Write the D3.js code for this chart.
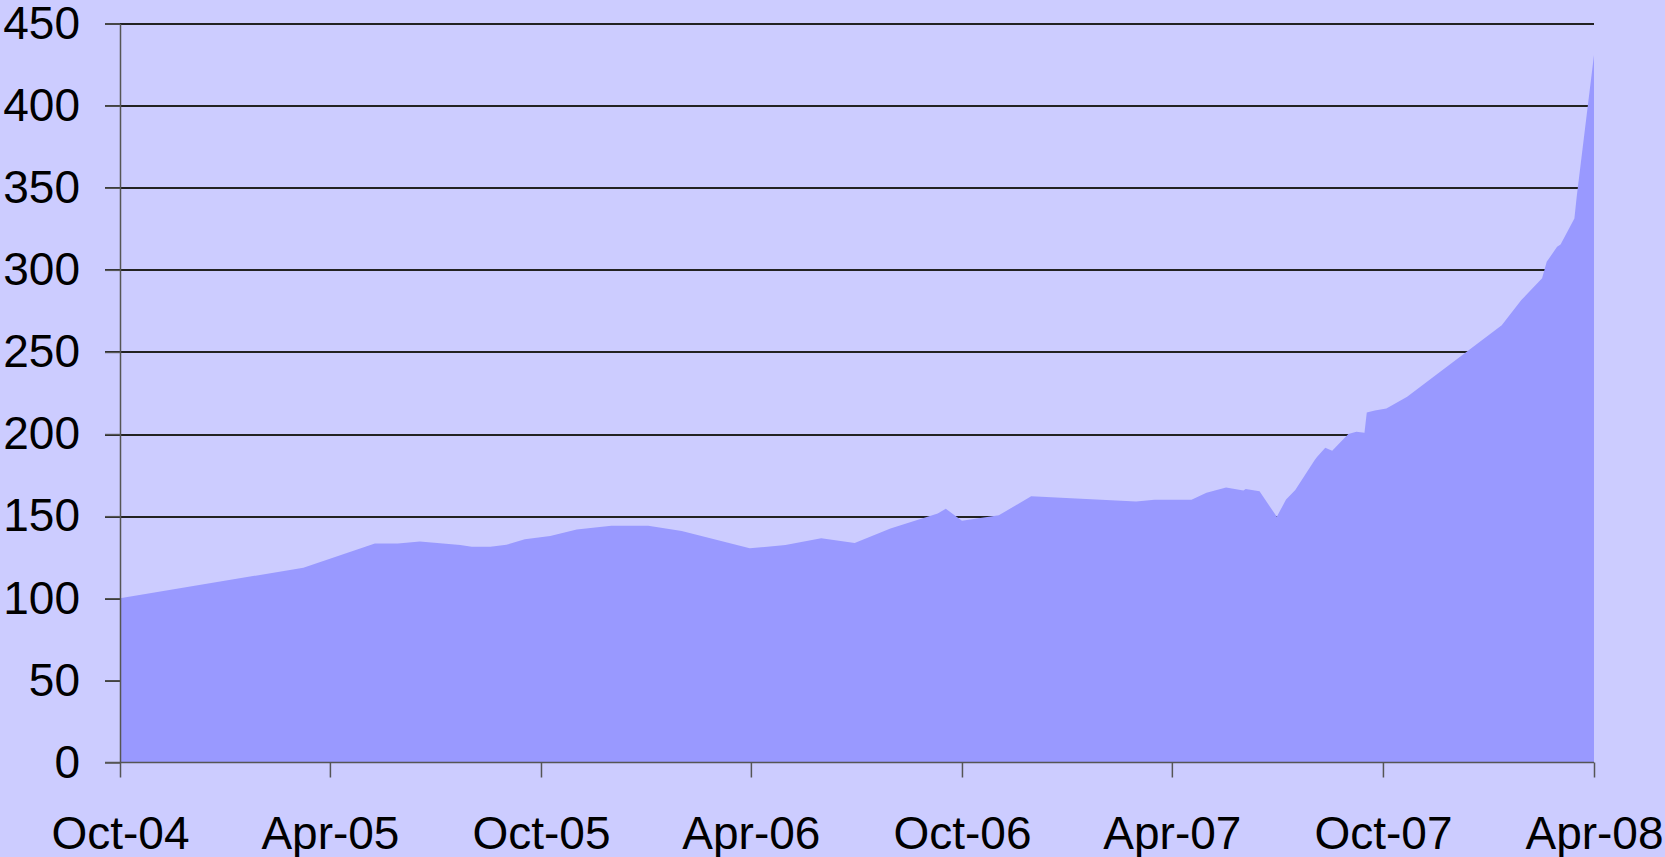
<!DOCTYPE html>
<html>
<head>
<meta charset="utf-8">
<script src="https://cdn.jsdelivr.net/npm/d3@7"></script>
<style>
  html, body { margin: 0; padding: 0; background: #ccccff; }
  #svg { width: 1665px; height: 857px; }
  .grid line { stroke: #222; stroke-width: 1.2; shape-rendering: crispEdges; }
  .chart__area { fill: #9999ff; }
  .axis path, .axis line { stroke: #555; stroke-width: 1.5; }
  .axis text { fill: #000; font-family: "Liberation Sans", Arial, sans-serif; font-size: 46px; }
</style>
</head>
<body>
<div id="svg"></div>
<script>
// series
var dates = [
  "2004-10-01", "2005-03-09", "2005-05-10", "2005-05-30", "2005-06-18", "2005-07-23",
  "2005-08-02", "2005-08-18", "2005-09-01", "2005-09-17", "2005-10-09", "2005-11-01",
  "2005-12-01", "2006-01-02", "2006-01-31", "2006-03-31", "2006-05-01", "2006-06-01",
  "2006-06-30", "2006-07-31", "2006-09-10", "2006-09-17", "2006-10-01", "2006-11-02",
  "2006-11-30", "2007-03-01", "2007-03-17", "2007-04-18", "2007-05-01", "2007-05-18",
  "2007-06-02", "2007-06-04", "2007-06-16", "2007-07-01", "2007-07-09", "2007-07-17",
  "2007-08-03", "2007-08-05", "2007-08-12", "2007-08-18", "2007-09-01", "2007-09-08",
  "2007-09-15", "2007-09-17", "2007-09-24", "2007-10-04", "2007-10-22", "2008-01-12",
  "2008-01-29", "2008-02-16", "2008-02-20", "2008-02-29", "2008-03-03", "2008-03-15",
  "2008-03-17", "2008-04-01"
];
var values = [
  100, 118.6, 133.4, 133.4, 134.6, 132.4,
  131.4, 131.4, 132.6, 135.9, 137.9, 141.9,
  144.1, 144.1, 140.9, 130.4, 132.4, 136.6,
  133.6, 142.5, 151.7, 154.5, 147.2, 150.5,
  162.2, 159, 160, 160, 164.2, 167.5,
  165.7, 166.5, 165.1, 149.6, 160.2, 165.9,
  184.4, 186.2, 191.6, 189.8, 200, 201.4,
  200.8, 213.2, 214.4, 215.6, 222.7, 266.3,
  281.6, 294.8, 304.9, 314, 315.5, 331.3,
  344.5, 430.8
];
var xTickDates = ["2004-10-01", "2005-04-01", "2005-10-01", "2006-04-01",
                  "2006-10-01", "2007-04-01", "2007-10-01", "2008-04-01"];
var yTicks = [0, 50, 100, 150, 200, 250, 300, 350, 400, 450];

var parseDate = d3.timeParse("%Y-%m-%d");
var data = dates.map(function(d, i) { return {date: parseDate(d), value: values[i]}; });

var margin = {top: 23.5, right: 71, bottom: 94.5, left: 120},
    width = 1665 - margin.left - margin.right,
    height = 857 - margin.top - margin.bottom;

var x = d3.scaleTime()
      .domain([parseDate(xTickDates[0]), parseDate(xTickDates[xTickDates.length - 1])])
      .range([0, width]);

var y = d3.scaleLinear()
      .domain([0, 450])
      .range([height, 0]);

var svg = d3.select('#svg').append('svg')
            .attr('width', 1665)
            .attr('height', 857);

var chartGroup = svg.append("g")
                  .attr("transform", "translate(" + margin.left + "," + margin.top + ")");

// gridlines under the area
chartGroup.append("g")
  .attr("class", "grid")
  .selectAll("line")
  .data(yTicks.slice(1))
  .enter().append("line")
  .attr("x1", -15)
  .attr("x2", width)
  .attr("y1", function(d) { return Math.round(y(d)) + 0.5; })
  .attr("y2", function(d) { return Math.round(y(d)) + 0.5; });

var area = d3.area()
              .x((d) => x(d.date))
              .y0(height)
              .y1((d) => y(d.value));

chartGroup.append("path")
  .attr("d", area(data))
  .attr("class", "chart__area");

var yAxis = d3.axisLeft(y)
              .tickValues(yTicks)
              .tickSizeInner(15)
              .tickSizeOuter(0)
              .tickPadding(25);

var xAxis = d3.axisBottom(x)
              .tickValues(xTickDates.map(parseDate))
              .tickFormat(d3.timeFormat("%b-%y"))
              .tickSizeInner(15)
              .tickSizeOuter(0)
              .tickPadding(39);

chartGroup.append("g")
  .attr("class", "axis yaxis")
  .call(yAxis);

chartGroup.append("g")
  .attr("class", "axis xaxis")
  .attr("transform", "translate(0," + height + ")")
  .call(xAxis);

// the base line runs from the tick stub on the left
chartGroup.select(".xaxis path")
  .attr("d", "M-15,0H" + width);
</script>
</body>
</html>
